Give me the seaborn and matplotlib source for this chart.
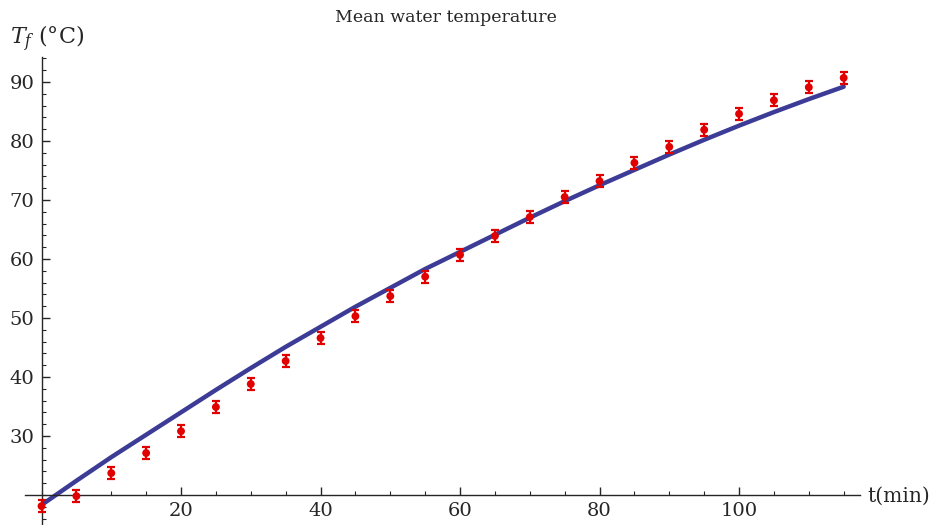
import numpy as np
import pandas as pd
import matplotlib
matplotlib.use("Agg")
import matplotlib.pyplot as plt
import seaborn as sns
from matplotlib.ticker import MultipleLocator

# measured mean water temperature (every 5 min)
t_meas = [0, 5, 10, 15, 20, 25, 30, 35, 40, 45, 50, 55,
          60, 65, 70, 75, 80, 85, 90, 95, 100, 105, 110, 115]
T_meas = [18.1, 19.8, 23.7, 27.1, 30.8, 34.9, 38.8, 42.7, 46.6, 50.3, 53.7, 57.0,
          60.7, 63.9, 67.1, 70.5, 73.2, 76.3, 79.0, 81.9, 84.6, 86.9, 89.1, 90.7]
T_err = [1.0] * len(t_meas)

# model curve
t_model = [0, 5, 10, 15, 20, 25, 30, 35, 40, 45, 50, 55,
           60, 65, 70, 75, 80, 85, 90, 95, 100, 105, 110, 115]
T_model = [18.3, 22.4, 26.4, 30.2, 34.0, 37.8, 41.5, 45.1, 48.5, 51.9, 55.1, 58.3,
           61.2, 64.1, 67.0, 69.8, 72.5, 75.1, 77.7, 80.2, 82.6, 84.9, 87.1, 89.2]

meas = pd.DataFrame({"t": t_meas, "T": T_meas, "err": T_err})
model = pd.DataFrame({"t": t_model, "T": T_model})

sns.set_style("ticks")
plt.rcParams["font.family"] = ["DejaVu Serif"]
plt.rcParams["mathtext.fontset"] = "dejavuserif"

fig = plt.figure(figsize=(9.35, 5.25), dpi=100)
ax = fig.add_axes([0.0265, 0.0, 0.893, 0.891])

sns.lineplot(data=model, x="t", y="T", ax=ax, color="#3c3c96", lw=3.2, zorder=2)
ax.errorbar(meas["t"], meas["T"], yerr=meas["err"], fmt="none",
            ecolor="#e00000", elinewidth=1.6, capsize=3, capthick=1.6, zorder=3)
sns.scatterplot(data=meas, x="t", y="T", ax=ax, color="#e00000", s=32,
                edgecolor="none", zorder=4)

ax.set_xlim(-2.4, 117.3)
ax.set_ylim(14.9, 94.2)

# Mathematica-like axes crossing at (0, 20)
for s in ["top", "right"]:
    ax.spines[s].set_visible(False)
ax.spines["left"].set_position(("data", 0))
ax.spines["bottom"].set_position(("data", 20))
ax.spines["left"].set_linewidth(1.0)
ax.spines["bottom"].set_linewidth(1.0)

ax.xaxis.set_minor_locator(MultipleLocator(5))
ax.yaxis.set_minor_locator(MultipleLocator(2))
ax.set_xticks([20, 40, 60, 80, 100])
ax.set_yticks([30, 40, 50, 60, 70, 80, 90])
ax.tick_params(which="major", direction="in", length=6, width=1, labelsize=14, pad=5)
ax.tick_params(which="minor", direction="in", length=3, width=0.8)

ax.set_xlabel("")
ax.set_ylabel("")
fig.text(0.477, 0.967, "Mean water temperature", ha="center", va="center", fontsize=12.5)
fig.text(0.011, 0.925, r"$T_f$ (°C)", ha="left", va="center", fontsize=16)
fig.text(0.928, 0.055, "t(min)", ha="left", va="center", fontsize=14.5)

fig.savefig("out.png", dpi=100)
